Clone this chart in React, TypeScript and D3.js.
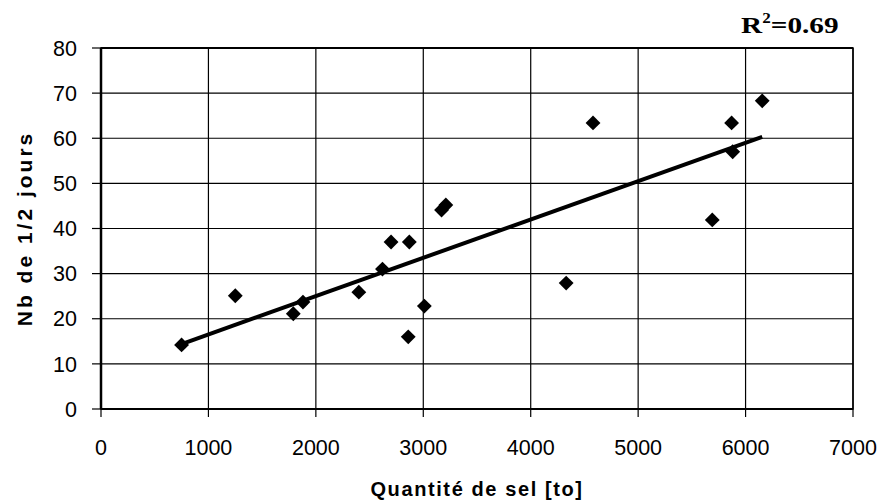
import React from "react";
import * as d3 from "d3";

const salt = [750, 1250, 1790, 1880, 2400, 2620, 2700, 2870, 2860, 3010, 3170, 3210, 4330, 4580, 5690, 5870, 5880, 6155];
const halfDays = [14.2, 25.1, 21.1, 23.7, 25.9, 31, 37, 37, 16, 22.8, 44.1, 45.2, 27.9, 63.4, 41.9, 63.4, 57, 68.3];
const trendX = [750, 6155];
const trendY = [14.4, 60.3];
const xTicks = [0, 1000, 2000, 3000, 4000, 5000, 6000, 7000];
const yTicks = [0, 10, 20, 30, 40, 50, 60, 70, 80];

const W = 880, H = 504;
const L = 101, R = 853, T = 48, B = 409;

export default function App() {
  const x = d3.scaleLinear().domain([0, 7000]).range([L, R]);
  const y = d3.scaleLinear().domain([0, 80]).range([B, T]);
  const line = d3.line<number>().x((d) => x(trendX[d])).y((d) => y(trendY[d]));
  const diamond = d3.symbol().type(d3.symbolSquare).size(110)();
  const font = "'Liberation Sans', Arial, sans-serif";
  return (
    <svg width={W} height={H} style={{ position: "absolute", left: 0, top: 0, background: "#fff" }}>
      <rect x={0} y={0} width={W} height={H} fill="#fff" />
      {yTicks.map((t) => (
        <g key={"y" + t}>
          <line x1={L} x2={R} y1={y(t)} y2={y(t)} stroke="#000" strokeWidth={1.2} />
          <line x1={L - 9} x2={L} y1={y(t)} y2={y(t)} stroke="#000" strokeWidth={1.2} />
          <text x={77} y={y(t)} dy="0.36em" textAnchor="end" fontFamily={font} fontSize={21.5}>{t}</text>
        </g>
      ))}
      {xTicks.map((t) => (
        <g key={"x" + t}>
          <line x1={x(t)} x2={x(t)} y1={T} y2={B} stroke="#000" strokeWidth={1.2} />
          <line x1={x(t)} x2={x(t)} y1={B} y2={B + 8} stroke="#000" strokeWidth={1.2} />
          <text x={x(t)} y={455} textAnchor="middle" fontFamily={font} fontSize={21.5}>{t}</text>
        </g>
      ))}
      <rect x={L} y={T} width={R - L} height={B - T} fill="none" stroke="#000" strokeWidth={1.5} />
      <line x1={L} x2={L} y1={T} y2={B} stroke="#000" strokeWidth={2.5} />
      <line x1={L} x2={R} y1={B} y2={B} stroke="#000" strokeWidth={2} />
      <line x1={L} x2={R} y1={T} y2={T} stroke="#000" strokeWidth={2} />
      <path d={line([0, 1]) || ""} fill="none" stroke="#000" strokeWidth={4} />
      {salt.map((s, i) => (
        <path key={"p" + i} d={diamond || ""} transform={`translate(${x(s)},${y(halfDays[i])}) rotate(45)`} fill="#000" />
      ))}
      <text x={(L + R) / 2} y={496} textAnchor="middle" fontFamily={font} fontSize={20} fontWeight="bold" letterSpacing={1.6}>Quantité de sel [to]</text>
      <text transform={`translate(32,${(T + B) / 2}) rotate(-90)`} textAnchor="middle" fontFamily={font} fontSize={21} fontWeight="bold" letterSpacing={3}>Nb de 1/2 jours</text>
      <text transform="translate(741,33) scale(1.22,1)" fontFamily="'Liberation Serif', 'Times New Roman', serif" fontSize={24} fontWeight="bold">
        R<tspan dy={-10} fontSize={14}>2</tspan><tspan dy={10}>=0.69</tspan>
      </text>
    </svg>
  );
}
